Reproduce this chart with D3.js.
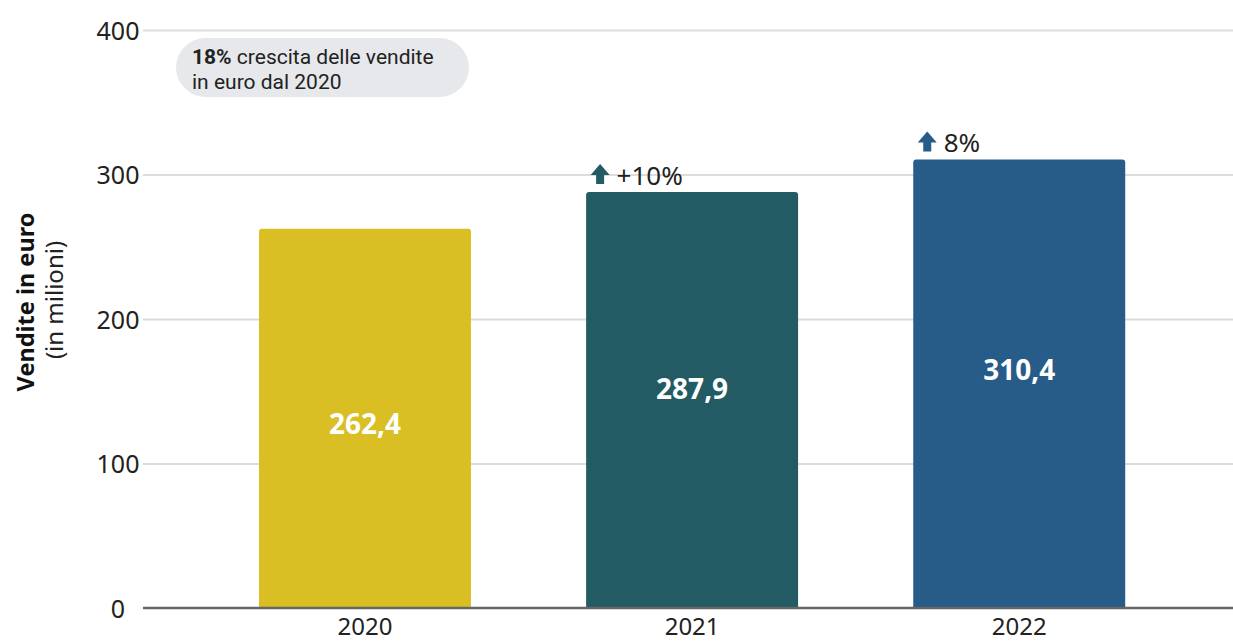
<!DOCTYPE html>
<html>
<head>
<meta charset="utf-8">
<script src="https://cdn.jsdelivr.net/npm/d3@7"></script>
<style>
  html, body { margin: 0; padding: 0; background: #fff; }
  svg { display: block; font-family: "Noto Sans", "Open Sans", sans-serif; }
</style>
</head>
<body>
<svg id="chart" width="1233" height="643"></svg>
<script>
// ---- data ----
const categories = ["2020", "2021", "2022"];
const values = [262.4, 287.9, 310.4];
const valueLabels = ["262,4", "287,9", "310,4"];
const changeLabels = ["", "+10%", "8%"];
const yTicks = [0, 100, 200, 300, 400];
const barColors = ["#D9BF24", "#225B63", "#275B88"];
const yTitle = "Vendite in euro";
const ySubtitle = "(in milioni)";
const noteBold = "18%";
const noteLine1 = " crescita delle vendite";
const noteLine2 = "in euro dal 2020";

// ---- layout ----
const W = 1233, H = 643;
const mLeft = 145, mRight = 1233, mTop = 30, mBottom = 608;
const labelDy = [6, -11, -14];

const svg = d3.select("#chart");

const x = d3.scaleBand()
  .domain(categories)
  .range([mLeft, mRight])
  .paddingInner(0.352)
  .paddingOuter(0.339)
  .align(0.514);

const y = d3.scaleLinear().domain([0, 400]).range([mBottom, mTop]);

// gridlines + tick labels
const yAxis = d3.axisLeft(y)
  .tickValues(yTicks)
  .tickSizeInner(-(mRight - mLeft))
  .tickSizeOuter(0)
  .tickPadding(0)
  .tickFormat(d3.format("d"));

const gAxis = svg.append("g")
  .attr("transform", `translate(${mLeft},0)`)
  .call(yAxis);
gAxis.select(".domain").remove();
gAxis.selectAll(".tick line")
  .attr("stroke", "#dcdcdc")
  .attr("stroke-width", 2)
  .attr("x1", -2);
gAxis.selectAll(".tick text")
  .attr("x", -27)
  .attr("text-anchor", "middle")
  .attr("dy", "0.36em")
  .attr("fill", "#222")
  .style("font-family", "'Noto Sans', sans-serif")
  .style("font-size", "25px");
gAxis.selectAll(".tick").filter(d => d === 0).select("line").remove();

// bars (rounded top corners)
function barPath(x0, w, yTop, yBot, r) {
  return `M${x0},${yBot}V${yTop + r}Q${x0},${yTop} ${x0 + r},${yTop}` +
         `H${x0 + w - r}Q${x0 + w},${yTop} ${x0 + w},${yTop + r}V${yBot}Z`;
}
svg.append("g").selectAll("path")
  .data(categories)
  .join("path")
  .attr("d", (c, i) => barPath(x(c), x.bandwidth(), y(values[i]), y(0), 3))
  .attr("fill", (c, i) => barColors[i]);

// baseline
const xAxis = d3.axisBottom(x).tickSize(0).tickPadding(0);
const gX = svg.append("g")
  .attr("transform", `translate(0,${y(0)})`)
  .call(xAxis);
gX.select(".domain")
  .attr("d", `M${mLeft - 2},0H${mRight}`)
  .attr("stroke", "#666")
  .attr("stroke-width", 2.5);
gX.selectAll(".tick text")
  .attr("y", H - 8 - y(0))
  .attr("dy", 0)
  .attr("fill", "#222")
  .style("font-family", "'Noto Sans', sans-serif")
  .style("font-size", "24px");

// value labels inside bars
svg.append("g").selectAll("text")
  .data(categories)
  .join("text")
  .attr("x", c => x(c) + x.bandwidth() / 2)
  .attr("y", (c, i) => (y(values[i]) + y(0)) / 2 + labelDy[i])
  .attr("dy", "0.36em")
  .attr("text-anchor", "middle")
  .attr("fill", "#fff")
  .style("font-weight", 700)
  .style("font-size", "28px")
  .text((c, i) => valueLabels[i]);

// change annotations with arrows
const changes = svg.append("g").selectAll("g")
  .data(categories.map((c, i) => ({c, i})).filter(d => changeLabels[d.i]))
  .join("g")
  .attr("transform", d => `translate(${x(d.c) + 4.5},${y(values[d.i]) - 8})`);
changes.append("path")
  .attr("d", "M0,-9L9.5,-20L19,-9H13.5V0H5.5V-9Z")
  .attr("fill", d => barColors[d.i]);
changes.append("text")
  .attr("x", 26)
  .attr("y", 1)
  .attr("fill", "#222")
  .style("font-size", "26px")
  .text(d => changeLabels[d.i]);

// note pill
const note = svg.append("g");
note.append("rect")
  .attr("x", 176).attr("y", 38)
  .attr("width", 293).attr("height", 59)
  .attr("rx", 29.5)
  .attr("fill", "#e6e8eb");
const nt = note.append("text")
  .attr("x", 192).attr("y", 64)
  .attr("fill", "#222")
  .style("font-family", "Roboto, 'Noto Sans', sans-serif")
  .style("font-size", "21px");
nt.append("tspan").style("font-weight", 700).text(noteBold);
nt.append("tspan").text(noteLine1);
nt.append("tspan").attr("x", 192).attr("dy", 25).text(noteLine2);

// y-axis title
svg.append("text")
  .attr("transform", "translate(34,302) rotate(-90)")
  .attr("text-anchor", "middle")
  .attr("fill", "#111")
  .style("font-weight", 700)
  .style("font-size", "23.5px")
  .text(yTitle);
svg.append("text")
  .attr("transform", "translate(63,300) rotate(-90)")
  .attr("text-anchor", "middle")
  .attr("fill", "#222")
  .style("font-size", "24px")
  .text(ySubtitle);
</script>
</body>
</html>
